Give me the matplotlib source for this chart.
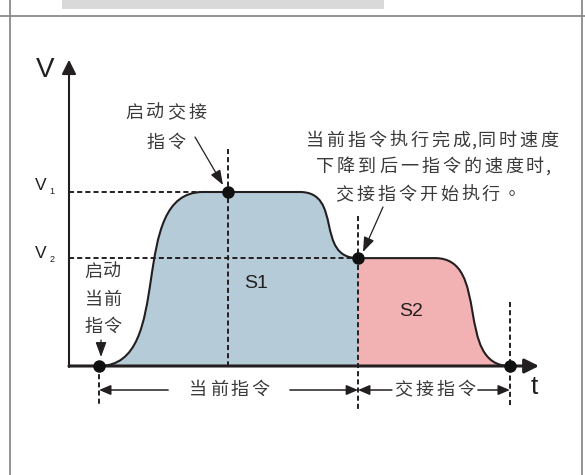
import matplotlib
matplotlib.use('Agg')
import matplotlib.pyplot as plt
from matplotlib.path import Path
from matplotlib.patches import PathPatch, Rectangle
from matplotlib.lines import Line2D

# --- данные схемы (время в условных единицах, скорость в долях V1) ---
profile_t = [0.64, 2.85, 4.91, 6.15, 7.79, 9.38]   # старт, конец разгона, начало торможения, переход, начало торможения 2, конец
profile_v = [0.0, 1.0, 1.0, 0.62, 0.62, 0.0]
t_handover = 3.38                                  # момент запуска сопрягаемой команды
speed_levels = [1.0, 0.62]
speed_names = ['1', '2']
segment_labels = ['当前指令', '交接指令']
area_labels = ['S1', 'S2']
t_axis_max = 10.0
v_axis_max = 1.76

# --- компоновка ---
W, H = 585, 475
X0, Y0 = 69, 366          # начало координат в пикселях
SX, SY = 47, 174          # пикселей на единицу t и v
CJK = 'Noto Sans CJK SC'
LAT = 'Liberation Sans'
INK = '#231f20'
TXT = '#3a3a3a'
BLUE = '#b6cbd8'
PINK = '#f2b1b3'
FRAME = '#808080'


def px(x, y):
    return ((x - X0) / SX, (Y0 - y) / SY)


fig = plt.figure(figsize=(W / 100, H / 100), dpi=100)
ax = fig.add_axes([0, 0, 1, 1])
ax.set_xlim(-X0 / SX, (W - X0) / SX)
ax.set_ylim(-(H - Y0) / SY, Y0 / SY)
ax.axis('off')

# рамка
fig.add_artist(Rectangle((62 / W, 1 - 9 / H), (384 - 62) / W, 9 / H,
                         transform=fig.transFigure, color='#d9d9d9', lw=0))
for xs, ys in [([0, 1], [1 - 16 / H] * 2), ([10 / W] * 2, [0, 1]), ([582 / W] * 2, [0, 1])]:
    fig.add_artist(Line2D(xs, ys, transform=fig.transFigure, color=FRAME, lw=1.2))


def ramp(p0, p1, k=0.75):
    """кубическая кривая Безье между двумя уровнями скорости"""
    (ta, va), (tb, vb) = p0, p1
    dt = tb - ta
    return [(ta + k * dt, va), (tb - k * dt, vb), (tb, vb)]


pts = list(zip(profile_t, profile_v))

# заливка S1
verts = [(pts[0][0], 0), pts[0]] + ramp(pts[0], pts[1]) + [pts[2]] + ramp(pts[2], pts[3]) + [(pts[3][0], 0), (0, 0)]
codes = [Path.MOVETO, Path.LINETO] + [Path.CURVE4] * 3 + [Path.LINETO] + [Path.CURVE4] * 3 + [Path.LINETO, Path.CLOSEPOLY]
ax.add_patch(PathPatch(Path(verts, codes), facecolor=BLUE, edgecolor='none'))

# заливка S2
verts = [(pts[3][0], 0), pts[3], pts[4]] + ramp(pts[4], pts[5]) + [(0, 0)]
codes = [Path.MOVETO, Path.LINETO, Path.LINETO] + [Path.CURVE4] * 3 + [Path.CLOSEPOLY]
ax.add_patch(PathPatch(Path(verts, codes), facecolor=PINK, edgecolor='none'))

# контур профиля скорости
verts = [pts[0]] + ramp(pts[0], pts[1]) + [pts[2]] + ramp(pts[2], pts[3]) + [pts[4]] + ramp(pts[4], pts[5])
codes = [Path.MOVETO] + [Path.CURVE4] * 3 + [Path.LINETO] + [Path.CURVE4] * 3 + [Path.LINETO] + [Path.CURVE4] * 3
ax.add_patch(PathPatch(Path(verts, codes), facecolor='none', edgecolor=INK, lw=1.5))

# пунктирные линии
dash = dict(color=INK, lw=1.4, dashes=(2.6, 1.6))
ax.plot([0, t_handover], [speed_levels[0]] * 2, **dash)
ax.plot([0, profile_t[3]], [speed_levels[1]] * 2, **dash)
ax.plot([t_handover] * 2, [1.247, 0], **dash)
ax.plot([profile_t[3]] * 2, [0.862, -0.253], **dash)
ax.plot([profile_t[0]] * 2, [0, -0.23], **dash)
ax.plot([profile_t[5]] * 2, [0.368, -0.236], **dash)

# оси
axis_arrow = dict(arrowstyle='-|>,head_length=0.86,head_width=0.43', color=INK,
                  shrinkA=0, shrinkB=0, mutation_scale=10)
ax.annotate('', xy=(t_axis_max, 0), xytext=(0, 0), arrowprops=dict(lw=2.2, **axis_arrow))
ax.annotate('', xy=(0, v_axis_max), xytext=(0, -0.006), arrowprops=dict(lw=1.5, **axis_arrow))

# ключевые точки
ax.plot([profile_t[0], t_handover, profile_t[3], profile_t[5]],
        [profile_v[0], speed_levels[0], speed_levels[1], profile_v[5]],
        'o', color='#111111', ms=8, zorder=5)


def spaced(xc, yc, s, pitch=21, size=13, color=TXT):
    adv = [4 if ch in ',，' else pitch for ch in s]
    total = sum(adv)
    x = xc - total / 2
    for ch, a in zip(s, adv):
        fam = ['Noto Sans CJK TC'] if ch == '。' else [CJK, 'DejaVu Sans']
        cx, cy = px(x + a / 2, yc)
        ax.text(cx, cy, ch, ha='center', va='center', fontsize=size, color=color, family=fam)
        x += a


# подписи осей
ax.text(*px(45, 70), 'V', ha='center', va='center', fontsize=20, color=INK, family=LAT)
ax.text(*px(534, 387), 't', ha='center', va='center', fontsize=19, color=INK, family=LAT)
for lvl_y, name in zip([186, 254], speed_names):
    ax.text(*px(41, lvl_y), 'V', ha='center', va='center', fontsize=12.5, color=INK, family=LAT)
    ax.text(*px(52, lvl_y + 5), name, ha='center', va='center', fontsize=6.5, color=INK, family=LAT)

# площади
ax.text(*px(256, 284), area_labels[0], ha='center', va='center', fontsize=14, color=INK, family=LAT)
ax.text(*px(411, 311), area_labels[1], ha='center', va='center', fontsize=14, color=INK, family=LAT)

# пояснения
spaced(166, 113, '启动交接')
spaced(166, 143, '指令')
spaced(432, 141, '当前指令执行完成,同时速度')
spaced(432, 167, '下降到后一指令的速度时,')
spaced(428, 195, '交接指令开始执行。')
for yy, s in zip([272, 300, 327], ['启动', '当前', '指令']):
    spaced(103, yy, s, pitch=19)

pointer = dict(arrowstyle='-|>,head_length=0.9,head_width=0.33', color=INK, lw=0.9,
               shrinkA=0, shrinkB=0, mutation_scale=10)
ax.annotate('', xy=px(223, 185), xytext=px(195, 137), arrowprops=pointer)
ax.annotate('', xy=px(363, 252), xytext=px(383, 207), arrowprops=pointer)
ax.annotate('', xy=px(101, 357), xytext=px(101, 340), arrowprops=pointer)

# размерные линии
dim_v = -0.138
dim = dict(arrowstyle='-|>,head_length=0.7,head_width=0.3', color=INK, lw=1.1,
           shrinkA=0, shrinkB=0, mutation_scale=10)
spans = [(profile_t[0], profile_t[3]), (profile_t[3], profile_t[5])]
gaps = [(2.11, 4.70), (6.87, 8.70)]
for (a, b), (g0, g1), lab in zip(spans, gaps, segment_labels):
    ax.annotate('', xy=(a, dim_v), xytext=(g0, dim_v), arrowprops=dim)
    ax.annotate('', xy=(b, dim_v), xytext=(g1, dim_v), arrowprops=dim)
    spaced((X0 + SX * (g0 + g1) / 2), Y0 - SY * dim_v, lab)

fig.savefig('out.png', dpi=100)
